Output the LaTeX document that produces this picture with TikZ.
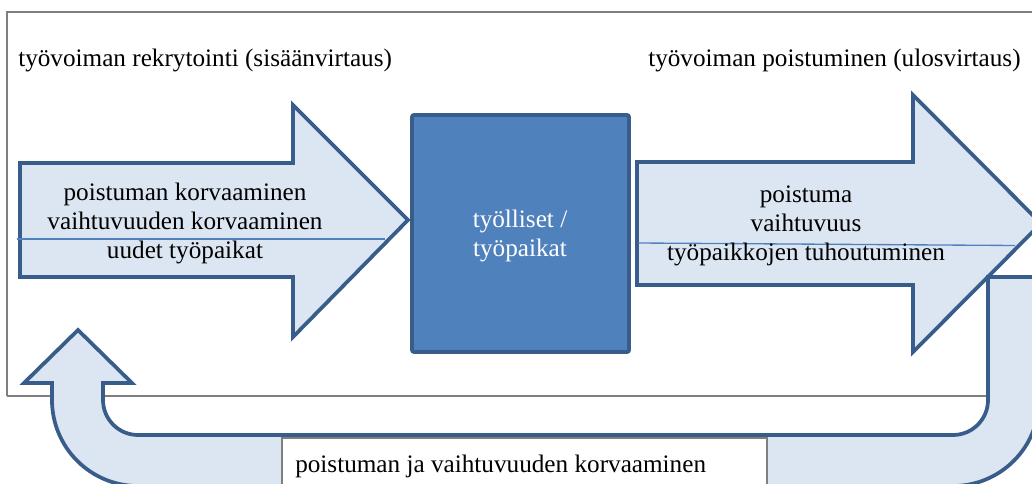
\documentclass[tikz,border=0pt]{standalone}
\usepackage{fontspec}
\setmainfont{Liberation Serif}
\definecolor{lightfill}{HTML}{DCE6F2}
\definecolor{darkline}{HTML}{385D8A}
\definecolor{boxfill}{HTML}{4F81BD}
\definecolor{framegray}{HTML}{7F7F7F}
\begin{document}
\begin{tikzpicture}[x=0.75pt,y=-0.75pt,
  every node/.style={font=\fontsize{18.9pt}{21.75pt}\selectfont, inner sep=0pt},
  blockarrow/.style={fill=lightfill, draw=darkline, line width=2.8pt, line join=miter},
  centerbox/.style={fill=boxfill, draw=darkline, line width=2.8pt, rounded corners=1.5pt},
  framebox/.style={draw=framegray, line width=1.3pt},
  thinline/.style={draw=boxfill, line width=1pt},
  labelbox/.style={fill=white, draw=framegray, line width=0.9pt},
  arrowtext/.style={align=center, anchor=base, text=black},
  plaintext/.style={anchor=base west, text=black}]
\useasboundingbox (0,0) rectangle (1032,484);
\clip (0,0) rectangle (1032,484);
% outer frame
\draw[framebox] (7,396) -- (7,12) -- (1045,12);
\draw[framebox] (7,396) -- (1045,396);
% top labels
\node[plaintext] (inlabel) at (18,67) {työvoiman rekrytointi (sisäänvirtaus)};
\node[plaintext] (outlabel) at (648,67) {työvoiman poistuminen (ulosvirtaus)};
% left arrow
\draw[blockarrow] (20,163) -- (293,163) -- (293,105) -- (408,220) -- (293,337) -- (293,277) -- (20,277) -- cycle;
\draw[thinline] (17,239) -- (385,239);
\node[arrowtext] (intext) at (185,259) {poistuman korvaaminen\\vaihtuvuuden korvaaminen\\uudet työpaikat};
% centre box
\draw[centerbox] (412,115) rectangle (629,352);
\node[arrowtext, text=white] (centertext) at (520,257) {työlliset /\\työpaikat};
% right arrow
\draw[blockarrow] (637,162) -- (913,162) -- (913,95) -- (1041,223.5) -- (913,352) -- (913,285) -- (637,285) -- cycle;
\draw[thinline] (638,243) -- (1015,245.5);
\node[arrowtext] (outtext) at (806,261) {poistuma\\vaihtuvuus\\työpaikkojen tuhoutuminen};
% U-turn arrow
\draw[blockarrow] (78,330) -- (132,383) -- (103,383) -- (103,400) arc(180:90:35) -- (953,435) arc(90:0:35)
  -- (988,277) -- (1039,277) -- (1039,400) arc(0:90:86) -- (138,486) arc(90:180:86) -- (52,383) -- (24,383) -- cycle;
% bottom label
\draw[labelbox] (282,438) rectangle (767,500);
\node[plaintext] (replace) at (295,473) {poistuman ja vaihtuvuuden korvaaminen};
\end{tikzpicture}
\end{document}
